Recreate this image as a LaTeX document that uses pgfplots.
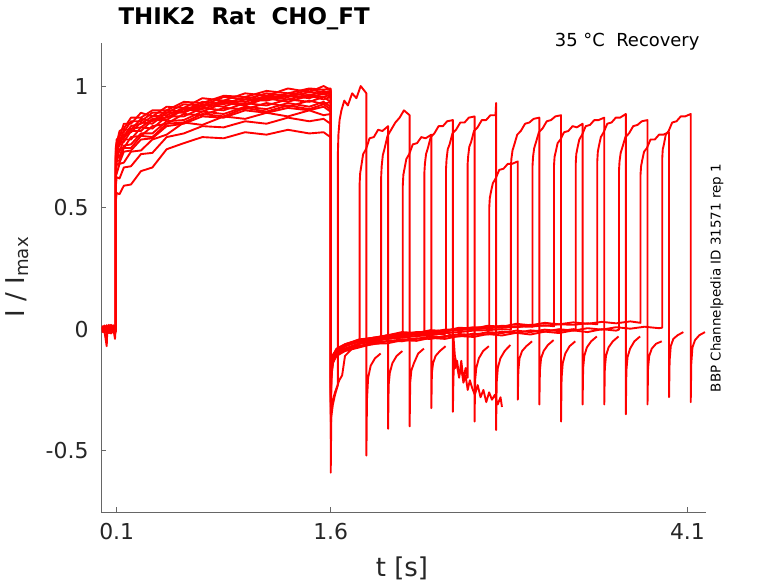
\documentclass[border=0pt]{standalone}
\usepackage{fontspec}
\setmainfont{DejaVu Sans}
\usepackage{pgfplots}
\pgfplotsset{compat=1.18}
\begin{document}
\begin{tikzpicture}
\useasboundingbox (-101bp,-71bp) rectangle (677bp,512bp);
\begin{axis}[
  at={(0,0)}, anchor=south west,
  scale only axis, width=605bp, height=469bp,
  xmin=-0.01, xmax=4.23, ymin=-0.752, ymax=1.177,
  axis x line*=bottom, axis y line*=left,
  axis line style={draw=black!60, line width=0.8pt},
  xtick={0.1,1.6,4.1}, xticklabels={0.1,1.6,4.1},
  ytick={-0.5,0,0.5,1}, yticklabels={-0.5,0,0.5,1},
  tick align=inside, major tick length=5bp,
  tick style={draw=black!60, line width=0.8pt},
  tick label style={font=\fontsize{22}{26}\selectfont, text=black!85},
  yticklabel style={xshift=-9bp},
  xticklabel style={yshift=-8bp},
  cycle list={{red, solid, mark=none}},
  every axis plot post/.append style={red, solid, mark=none, line width=1.9pt, line join=round},
]
% sweep 0
\addplot coordinates {(0,0.01)(0.015,-0.012)(0.03,-0.07)(0.035,0.01)(0.05,-0.015)(0.065,0.012)(0.08,-0.01)(0.093,0.0)
(0.094,0.74)(0.1,0.78)(0.12,0.79)(0.15,0.845)(0.2,0.845)(0.27,0.89)(0.35,0.875)(0.45,0.915)(0.57,0.91)(0.7,0.95)(0.85,0.94)(1.0,0.97)(1.15,0.96)(1.3,0.99)(1.45,0.975)(1.55,1.0)(1.598,0.985)
(1.6,0.985)(1.6,-0.59)(1.604,-0.36)(1.615,-0.31)(1.63,-0.27)(1.65,-0.23)
(1.65,0.72)(1.654,0.8)(1.662,0.86)(1.675,0.9)(1.695,0.94)(1.72,0.92)(1.75,0.97)(1.78,0.95)(1.81,1.0)(1.85,0.97)
(1.85,-0.52)(1.854,-0.29)(1.862,-0.2)(1.88,-0.15)(1.91,-0.12)(1.95,-0.1)};
% sweep 1
\addplot coordinates {(0,-0.01)(0.015,0.012)(0.03,-0.008)(0.045,0.015)(0.06,-0.012)(0.075,0.008)(0.088,-0.04)(0.093,0.005)
(0.094,0.53)(0.1,0.56)(0.12,0.555)(0.15,0.59)(0.2,0.595)(0.27,0.65)(0.35,0.665)(0.45,0.74)(0.57,0.765)(0.7,0.79)(0.85,0.785)(1.0,0.81)(1.15,0.8)(1.3,0.82)(1.45,0.805)(1.55,0.81)(1.598,0.79)
(1.6,0.79)(1.6,-0.45)(1.604,-0.33)(1.615,-0.29)(1.63,-0.26)(1.66,-0.21)(1.68,-0.19)(1.7,-0.11)(1.75,-0.08)(1.8,-0.065)(1.802,-0.06)
(1.802,0.59)(1.806,0.64)(1.814,0.67)(1.827,0.72)(1.847,0.74)(1.872,0.785)(1.902,0.79)(1.932,0.82)(1.962,0.815)(2.002,0.835)
(2.002,-0.41)(2.006,-0.23)(2.014,-0.18)(2.032,-0.14)(2.062,-0.11)(2.102,-0.09)};
% sweep 2
\addplot coordinates {(0,0.005)(0.015,-0.015)(0.03,0.012)(0.045,-0.005)(0.06,0.018)(0.075,-0.012)(0.088,0.005)(0.093,-0.01)
(0.094,0.72)(0.1,0.76)(0.12,0.765)(0.15,0.82)(0.2,0.82)(0.27,0.865)(0.35,0.855)(0.45,0.9)(0.57,0.895)(0.7,0.935)(0.85,0.925)(1.0,0.955)(1.15,0.945)(1.3,0.97)(1.45,0.96)(1.55,0.98)(1.598,0.965)
(1.6,0.965)(1.6,-0.38)(1.604,-0.2)(1.615,-0.14)(1.64,-0.11)(1.7,-0.085)(1.8,-0.06)(1.9,-0.05)(1.953,-0.045)
(1.953,0.62)(1.957,0.67)(1.965,0.715)(1.978,0.745)(1.998,0.795)(2.023,0.82)(2.053,0.85)(2.083,0.87)(2.113,0.9)(2.153,0.88)
(2.153,-0.40)(2.157,-0.22)(2.165,-0.17)(2.183,-0.14)(2.213,-0.1)(2.253,-0.08)};
% sweep 3
\addplot coordinates {(0,0.0)(0.015,0.01)(0.03,-0.015)(0.045,0.008)(0.06,-0.01)(0.075,0.015)(0.088,-0.005)(0.093,0.01)
(0.094,0.59)(0.1,0.625)(0.12,0.62)(0.15,0.665)(0.2,0.67)(0.27,0.72)(0.35,0.725)(0.45,0.79)(0.57,0.805)(0.7,0.835)(0.85,0.83)(1.0,0.855)(1.15,0.845)(1.3,0.87)(1.45,0.855)(1.55,0.865)(1.598,0.845)
(1.6,0.845)(1.6,-0.3)(1.604,-0.18)(1.615,-0.13)(1.64,-0.1)(1.7,-0.07)(1.8,-0.05)(1.9,-0.04)(2.0,-0.035)(2.1,-0.025)(2.105,-0.03)
(2.105,0.59)(2.109,0.635)(2.117,0.66)(2.13,0.70)(2.15,0.72)(2.175,0.76)(2.205,0.765)(2.235,0.79)(2.265,0.785)(2.305,0.80)
(2.305,-0.325)(2.309,-0.18)(2.317,-0.14)(2.335,-0.11)(2.365,-0.09)(2.405,-0.07)};
% sweep 4
\addplot coordinates {(0,-0.005)(0.015,0.015)(0.03,-0.01)(0.045,0.012)(0.06,-0.015)(0.075,0.005)(0.088,0.01)(0.093,-0.005)
(0.094,0.70)(0.1,0.72)(0.12,0.765)(0.15,0.77)(0.2,0.815)(0.27,0.815)(0.35,0.86)(0.45,0.86)(0.57,0.905)(0.7,0.895)(0.85,0.93)(1.0,0.92)(1.15,0.95)(1.3,0.935)(1.45,0.96)(1.55,0.945)(1.598,0.955)
(1.6,0.955)(1.6,-0.25)(1.604,-0.16)(1.615,-0.12)(1.64,-0.095)(1.7,-0.07)(1.8,-0.045)(1.9,-0.04)(2.0,-0.025)(2.1,-0.02)(2.2,-0.018)(2.256,-0.015)
(2.256,0.64)(2.26,0.68)(2.268,0.72)(2.281,0.745)(2.301,0.79)(2.326,0.805)(2.356,0.835)(2.386,0.835)(2.416,0.855)(2.456,0.86)
(2.456,-0.34)(2.46,-0.2)(2.466,-0.12)(2.475,-0.16)(2.485,-0.13)(2.5,-0.19)(2.515,-0.16)(2.53,-0.22)(2.545,-0.19)(2.56,-0.25)(2.575,-0.21)(2.59,-0.24)(2.61,-0.27)(2.63,-0.23)(2.65,-0.28)(2.67,-0.25)(2.69,-0.3)(2.71,-0.26)(2.73,-0.29)(2.75,-0.27)(2.77,-0.31)(2.79,-0.28)(2.8,-0.32)};
% sweep 5
\addplot coordinates {(0,0.012)(0.015,-0.008)(0.03,0.005)(0.045,-0.015)(0.06,0.01)(0.075,-0.005)(0.088,0.015)(0.093,0.0)
(0.094,0.73)(0.1,0.75)(0.12,0.80)(0.15,0.81)(0.2,0.855)(0.27,0.855)(0.35,0.89)(0.45,0.89)(0.57,0.925)(0.7,0.92)(0.85,0.955)(1.0,0.945)(1.15,0.97)(1.3,0.96)(1.45,0.985)(1.55,0.975)(1.598,0.98)
(1.6,0.98)(1.6,-0.35)(1.604,-0.19)(1.615,-0.13)(1.64,-0.105)(1.7,-0.08)(1.8,-0.06)(1.9,-0.042)(2.0,-0.04)(2.1,-0.028)(2.2,-0.03)(2.3,-0.018)(2.4,-0.02)(2.408,-0.015)
(2.408,0.66)(2.412,0.70)(2.42,0.74)(2.433,0.76)(2.453,0.805)(2.478,0.82)(2.508,0.85)(2.538,0.85)(2.568,0.87)(2.608,0.875)
(2.608,-0.38)(2.612,-0.21)(2.62,-0.16)(2.638,-0.12)(2.668,-0.09)(2.708,-0.07)};
% sweep 6
\addplot coordinates {(0,-0.012)(0.015,0.005)(0.03,-0.018)(0.045,0.01)(0.06,-0.005)(0.075,0.012)(0.088,-0.01)(0.093,0.005)
(0.094,0.66)(0.1,0.69)(0.12,0.695)(0.15,0.745)(0.2,0.745)(0.27,0.795)(0.35,0.79)(0.45,0.845)(0.57,0.85)(0.7,0.885)(0.85,0.875)(1.0,0.91)(1.15,0.895)(1.3,0.92)(1.45,0.905)(1.55,0.925)(1.598,0.905)
(1.6,0.905)(1.6,-0.28)(1.604,-0.17)(1.615,-0.12)(1.64,-0.09)(1.7,-0.07)(1.8,-0.05)(1.9,-0.045)(2.0,-0.032)(2.1,-0.032)(2.2,-0.02)(2.3,-0.022)(2.4,-0.01)(2.46,-0.03)(2.47,-0.11)(2.485,-0.15)(2.5,-0.2)(2.515,-0.13)(2.53,-0.21)(2.545,-0.16)(2.559,-0.2)
(2.559,0.675)(2.563,0.71)(2.571,0.75)(2.584,0.77)(2.604,0.815)(2.629,0.83)(2.659,0.86)(2.689,0.86)(2.719,0.88)(2.755,0.88)(2.759,0.93)
(2.759,-0.415)(2.763,-0.22)(2.771,-0.16)(2.789,-0.12)(2.819,-0.09)(2.859,-0.065)};
% sweep 7
\addplot coordinates {(0,0.008)(0.015,-0.01)(0.03,0.015)(0.045,-0.008)(0.06,0.012)(0.075,-0.015)(0.088,0.008)(0.093,-0.012)
(0.094,0.71)(0.1,0.745)(0.12,0.755)(0.15,0.80)(0.2,0.81)(0.27,0.85)(0.35,0.845)(0.45,0.89)(0.57,0.89)(0.7,0.925)(0.85,0.915)(1.0,0.945)(1.15,0.94)(1.3,0.96)(1.45,0.95)(1.55,0.97)(1.598,0.955)
(1.6,0.955)(1.6,-0.22)(1.604,-0.15)(1.615,-0.11)(1.64,-0.09)(1.7,-0.065)(1.8,-0.05)(1.9,-0.038)(2.0,-0.03)(2.1,-0.022)(2.2,-0.02)(2.3,-0.012)(2.4,-0.01)(2.5,0.0)(2.6,-0.002)(2.7,0.006)(2.711,0.003)
(2.711,0.50)(2.715,0.54)(2.723,0.565)(2.736,0.60)(2.756,0.62)(2.781,0.655)(2.811,0.66)(2.841,0.68)(2.871,0.68)(2.911,0.69)
(2.911,-0.29)(2.915,-0.17)(2.923,-0.12)(2.941,-0.09)(2.971,-0.07)(3.011,-0.05)};
% sweep 8
\addplot coordinates {(0,-0.008)(0.015,0.012)(0.03,-0.005)(0.045,0.018)(0.06,-0.01)(0.075,0.008)(0.088,-0.012)(0.093,0.01)
(0.094,0.68)(0.1,0.695)(0.12,0.74)(0.15,0.745)(0.2,0.79)(0.27,0.795)(0.35,0.835)(0.45,0.845)(0.57,0.885)(0.7,0.88)(0.85,0.91)(1.0,0.905)(1.15,0.93)(1.3,0.915)(1.45,0.94)(1.55,0.925)(1.598,0.935)
(1.6,0.935)(1.6,-0.32)(1.604,-0.18)(1.615,-0.125)(1.64,-0.1)(1.7,-0.08)(1.8,-0.058)(1.9,-0.05)(2.0,-0.04)(2.1,-0.035)(2.2,-0.028)(2.3,-0.025)(2.4,-0.016)(2.5,-0.012)(2.6,-0.006)(2.7,-0.004)(2.8,0.0)(2.862,-0.002)
(2.862,0.66)(2.866,0.70)(2.874,0.735)(2.887,0.76)(2.907,0.80)(2.932,0.815)(2.962,0.845)(2.992,0.85)(3.022,0.865)(3.062,0.87)
(3.062,-0.31)(3.066,-0.17)(3.074,-0.12)(3.092,-0.09)(3.122,-0.065)(3.162,-0.045)};
% sweep 9
\addplot coordinates {(0,0.015)(0.015,-0.005)(0.03,0.01)(0.045,-0.012)(0.06,0.005)(0.075,-0.008)(0.088,0.012)(0.093,-0.002)
(0.094,0.75)(0.1,0.765)(0.12,0.815)(0.15,0.825)(0.2,0.87)(0.27,0.87)(0.35,0.90)(0.45,0.9)(0.57,0.935)(0.7,0.93)(0.85,0.96)(1.0,0.955)(1.15,0.98)(1.3,0.97)(1.45,0.99)(1.55,0.985)(1.598,0.99)
(1.6,0.99)(1.6,-0.27)(1.604,-0.16)(1.615,-0.11)(1.64,-0.085)(1.7,-0.068)(1.8,-0.048)(1.9,-0.042)(2.0,-0.03)(2.1,-0.028)(2.2,-0.018)(2.3,-0.016)(2.4,-0.006)(2.5,-0.005)(2.6,0.004)(2.7,0.003)(2.8,0.01)(2.9,0.008)(3.0,0.014)(3.014,0.01)
(3.014,0.67)(3.018,0.71)(3.026,0.745)(3.039,0.77)(3.059,0.81)(3.084,0.825)(3.114,0.855)(3.144,0.86)(3.174,0.875)(3.214,0.88)
(3.214,-0.38)(3.218,-0.2)(3.226,-0.14)(3.244,-0.1)(3.274,-0.07)(3.314,-0.05)};
% sweep 10
\addplot coordinates {(0,-0.003)(0.015,0.01)(0.03,-0.012)(0.045,0.005)(0.06,-0.018)(0.075,0.01)(0.088,-0.005)(0.093,0.008)
(0.094,0.69)(0.1,0.725)(0.12,0.73)(0.15,0.78)(0.2,0.78)(0.27,0.83)(0.35,0.825)(0.45,0.875)(0.57,0.875)(0.7,0.91)(0.85,0.9)(1.0,0.93)(1.15,0.92)(1.3,0.945)(1.45,0.935)(1.55,0.955)(1.598,0.935)
(1.6,0.935)(1.6,-0.2)(1.604,-0.14)(1.615,-0.105)(1.64,-0.085)(1.7,-0.062)(1.8,-0.045)(1.9,-0.035)(2.0,-0.03)(2.1,-0.02)(2.2,-0.018)(2.3,-0.01)(2.4,-0.008)(2.5,0.002)(2.6,0.0)(2.7,0.008)(2.8,0.006)(2.9,0.012)(3.0,0.01)(3.1,0.016)(3.165,0.012)
(3.165,0.675)(3.169,0.71)(3.177,0.73)(3.19,0.765)(3.21,0.78)(3.235,0.81)(3.265,0.815)(3.295,0.835)(3.325,0.83)(3.365,0.845)
(3.365,-0.31)(3.369,-0.16)(3.377,-0.11)(3.395,-0.075)(3.425,-0.05)(3.465,-0.03)};
% sweep 11
\addplot coordinates {(0,0.006)(0.015,-0.014)(0.03,0.008)(0.045,-0.01)(0.06,0.014)(0.075,-0.006)(0.088,0.004)(0.093,-0.008)
(0.094,0.63)(0.1,0.64)(0.12,0.68)(0.15,0.685)(0.2,0.73)(0.27,0.735)(0.35,0.78)(0.45,0.80)(0.57,0.85)(0.7,0.84)(0.85,0.875)(1.0,0.865)(1.15,0.89)(1.3,0.875)(1.45,0.9)(1.55,0.88)(1.598,0.885)
(1.6,0.885)(1.6,-0.3)(1.604,-0.17)(1.615,-0.125)(1.64,-0.1)(1.7,-0.08)(1.8,-0.07)(1.9,-0.055)(2.0,-0.05)(2.1,-0.042)(2.2,-0.04)(2.3,-0.03)(2.4,-0.032)(2.5,-0.02)(2.6,-0.024)(2.7,-0.012)(2.8,-0.016)(2.9,-0.006)(3.0,-0.012)(3.1,-0.002)(3.2,-0.008)(3.3,0.0)(3.317,-0.002)
(3.317,0.68)(3.321,0.72)(3.329,0.745)(3.342,0.78)(3.362,0.80)(3.387,0.835)(3.417,0.84)(3.447,0.86)(3.477,0.86)(3.517,0.87)
(3.517,-0.31)(3.521,-0.16)(3.529,-0.11)(3.547,-0.075)(3.577,-0.05)(3.617,-0.03)};
% sweep 12
\addplot coordinates {(0,-0.015)(0.015,0.008)(0.03,-0.006)(0.045,0.012)(0.06,-0.008)(0.075,0.016)(0.088,-0.012)(0.093,0.002)
(0.094,0.71)(0.1,0.75)(0.12,0.785)(0.15,0.795)(0.2,0.835)(0.27,0.845)(0.35,0.875)(0.45,0.88)(0.57,0.91)(0.7,0.915)(0.85,0.94)(1.0,0.935)(1.15,0.96)(1.3,0.955)(1.45,0.975)(1.55,0.965)(1.598,0.975)
(1.6,0.975)(1.6,-0.24)(1.604,-0.15)(1.615,-0.11)(1.64,-0.08)(1.7,-0.062)(1.8,-0.042)(1.9,-0.036)(2.0,-0.025)(2.1,-0.02)(2.2,-0.012)(2.3,-0.012)(2.4,-0.002)(2.5,0.0)(2.6,0.008)(2.7,0.006)(2.8,0.014)(2.9,0.01)(3.0,0.018)(3.1,0.014)(3.2,0.02)(3.3,0.018)(3.4,0.024)(3.468,0.02)
(3.468,0.69)(3.472,0.73)(3.48,0.755)(3.493,0.79)(3.513,0.81)(3.538,0.845)(3.568,0.85)(3.598,0.87)(3.628,0.87)(3.668,0.885)
(3.668,-0.35)(3.672,-0.17)(3.68,-0.115)(3.698,-0.08)(3.728,-0.05)(3.768,-0.03)};
% sweep 13
\addplot coordinates {(0,0.01)(0.015,-0.006)(0.03,0.016)(0.045,-0.012)(0.06,0.006)(0.075,-0.01)(0.088,0.014)(0.093,-0.004)
(0.094,0.665)(0.1,0.70)(0.12,0.71)(0.15,0.755)(0.2,0.76)(0.27,0.805)(0.35,0.805)(0.45,0.855)(0.57,0.86)(0.7,0.895)(0.85,0.885)(1.0,0.915)(1.15,0.905)(1.3,0.93)(1.45,0.915)(1.55,0.935)(1.598,0.915)
(1.6,0.915)(1.6,-0.35)(1.604,-0.2)(1.615,-0.135)(1.64,-0.11)(1.7,-0.09)(1.8,-0.075)(1.9,-0.06)(2.0,-0.058)(2.1,-0.045)(2.2,-0.048)(2.3,-0.036)(2.4,-0.04)(2.5,-0.028)(2.6,-0.032)(2.7,-0.02)(2.8,-0.026)(2.9,-0.015)(3.0,-0.022)(3.1,-0.01)(3.2,-0.016)(3.3,-0.005)(3.4,-0.012)(3.5,0.0)(3.6,-0.006)(3.62,-0.002)
(3.62,0.65)(3.624,0.69)(3.632,0.725)(3.645,0.75)(3.665,0.79)(3.69,0.805)(3.72,0.835)(3.75,0.84)(3.78,0.855)(3.82,0.86)
(3.82,-0.31)(3.824,-0.16)(3.832,-0.11)(3.85,-0.08)(3.88,-0.06)(3.92,-0.05)};
% sweep 14
\addplot coordinates {(0,-0.006)(0.015,0.014)(0.03,-0.012)(0.045,0.006)(0.06,-0.014)(0.075,0.012)(0.088,-0.006)(0.093,0.006)
(0.094,0.705)(0.1,0.73)(0.12,0.775)(0.15,0.785)(0.2,0.825)(0.27,0.83)(0.35,0.865)(0.45,0.87)(0.57,0.905)(0.7,0.905)(0.85,0.935)(1.0,0.925)(1.15,0.955)(1.3,0.945)(1.45,0.965)(1.55,0.955)(1.598,0.965)
(1.6,0.965)(1.6,-0.26)(1.604,-0.16)(1.615,-0.115)(1.64,-0.09)(1.7,-0.065)(1.8,-0.045)(1.9,-0.035)(2.0,-0.025)(2.1,-0.012)(2.2,-0.016)(2.3,-0.004)(2.4,-0.008)(2.5,0.006)(2.6,0.002)(2.7,0.014)(2.8,0.01)(2.9,0.022)(3.0,0.016)(3.1,0.026)(3.2,0.02)(3.3,0.028)(3.4,0.022)(3.5,0.03)(3.6,0.024)(3.7,0.032)(3.771,0.026)
(3.771,0.634)(3.775,0.67)(3.783,0.695)(3.796,0.73)(3.816,0.745)(3.841,0.78)(3.871,0.78)(3.901,0.80)(3.931,0.80)(3.971,0.81)
(3.971,-0.28)(3.975,-0.13)(3.983,-0.07)(4.001,-0.04)(4.031,-0.025)(4.071,-0.012)};
% sweep 15
\addplot coordinates {(0,0.004)(0.015,-0.012)(0.03,0.01)(0.045,-0.016)(0.06,0.012)(0.075,-0.004)(0.088,0.008)(0.093,-0.006)
(0.094,0.645)(0.1,0.675)(0.12,0.685)(0.15,0.73)(0.2,0.735)(0.27,0.78)(0.35,0.785)(0.45,0.835)(0.57,0.845)(0.7,0.875)(0.85,0.87)(1.0,0.9)(1.15,0.89)(1.3,0.91)(1.45,0.90)(1.55,0.915)(1.598,0.895)
(1.6,0.895)(1.6,-0.3)(1.604,-0.17)(1.615,-0.12)(1.64,-0.1)(1.7,-0.085)(1.8,-0.068)(1.9,-0.062)(2.0,-0.048)(2.1,-0.05)(2.2,-0.038)(2.3,-0.04)(2.4,-0.028)(2.5,-0.03)(2.6,-0.018)(2.7,-0.022)(2.8,-0.01)(2.9,-0.016)(3.0,-0.005)(3.1,-0.01)(3.2,0.0)(3.3,-0.006)(3.4,0.004)(3.5,-0.002)(3.6,0.008)(3.7,0.002)(3.8,0.01)(3.9,0.004)(3.923,0.006)
(3.923,0.70)(3.927,0.74)(3.935,0.76)(3.948,0.80)(3.968,0.815)(3.993,0.85)(4.023,0.855)(4.053,0.875)(4.083,0.875)(4.123,0.885)
(4.123,-0.30)(4.127,-0.14)(4.135,-0.075)(4.153,-0.045)(4.183,-0.025)(4.223,-0.012)};
\end{axis}
\node[anchor=base west, font=\fontsize{23}{27}\selectfont\bfseries] at (14bp,487bp) {THIK2\ \ Rat\ \ CHO\_FT};
\node[anchor=base east, font=\fontsize{18}{22}\selectfont] at (602bp,465bp) {35 °C\ \ Recovery};
\node[rotate=90, font=\fontsize{13.5}{16}\selectfont] at (616bp,234bp) {BBP Channelpedia ID 31571 rep 1};
\node[rotate=90, anchor=base, font=\fontsize{26}{30}\selectfont, text=black!85] at (-76bp,235bp) {I / I\textsubscript{max}};
\node[anchor=base, font=\fontsize{26}{30}\selectfont, text=black!85] at (301bp,-64bp) {t [s]};
\end{tikzpicture}
\end{document}
